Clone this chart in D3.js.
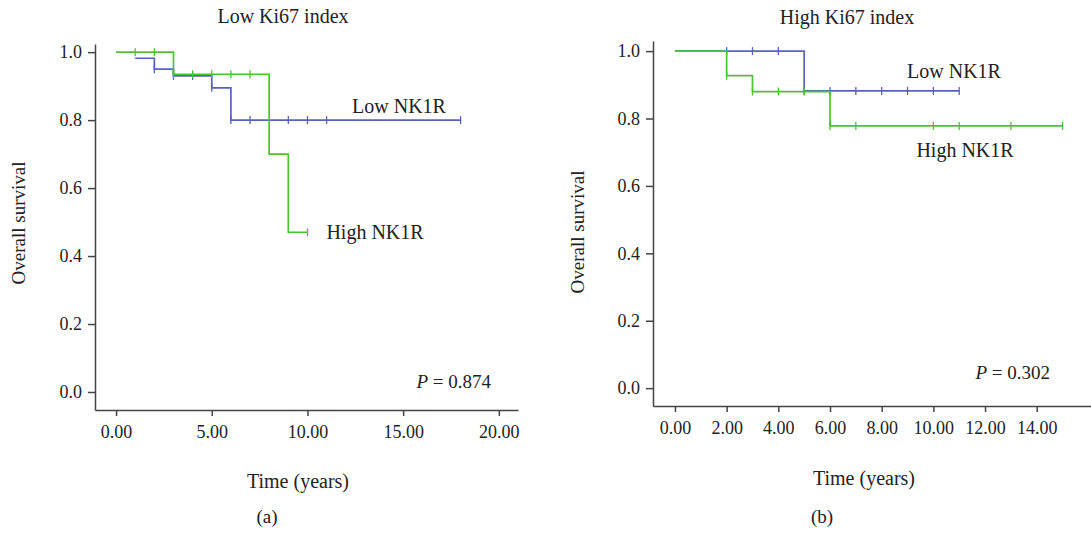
<!DOCTYPE html>
<html>
<head>
<meta charset="utf-8">
<script src="https://cdn.jsdelivr.net/npm/d3@7"></script>
<style>
  body { margin: 0; background: #fff; }
  svg text { font-family: "Liberation Serif", "Times New Roman", serif; fill: #222; }
</style>
</head>
<body>
<script>
const width = 1091;
const height = 533;

// Kaplan-Meier steps: [time, survival] and censor times
const lowKi_lowNK1R_steps = [[1, 0.982], [2, 0.95], [3, 0.93], [5, 0.895], [6, 0.80], [18, 0.80]];
const lowKi_lowNK1R_censor = [2, 3, 4, 5, 6, 7, 9, 10, 11, 18];
const lowKi_highNK1R_steps = [[0, 1.0], [3, 0.935], [8, 0.70], [9, 0.47], [10, 0.47]];
const lowKi_highNK1R_censor = [1, 2, 3, 4, 5, 6, 7, 10];

const highKi_lowNK1R_steps = [[0, 1.0], [5, 0.882], [11, 0.882]];
const highKi_lowNK1R_censor = [2, 3, 4, 5, 6, 7, 8, 9, 10, 11];
const highKi_highNK1R_steps = [[0, 1.0], [2, 0.927], [3, 0.88], [6, 0.778], [15, 0.778]];
const highKi_highNK1R_censor = [2, 3, 4, 5, 6, 7, 10, 11, 13, 15];

const xTicksA = [0, 5, 10, 15, 20];
const xTicksB = [0, 2, 4, 6, 8, 10, 12, 14];
const yTicks = [0, 0.2, 0.4, 0.6, 0.8, 1.0];

const blue = '#5862bb';
const green = '#4cc230';

const svg = d3.select('body')
    .append('svg')
    .attr('width', width)
    .attr('height', height);

// value of the step curve at time t
function survAt(steps, t) {
    let v = steps[0][1];
    steps.forEach(s => { if (s[0] <= t) v = s[1]; });
    return v;
}

function drawPanel(p) {
    const x = d3.scaleLinear().domain(p.xDomain).range(p.xRange);
    const y = d3.scaleLinear().domain(p.yDomain).range(p.yRange);
    const g = svg.append('g');

    const xAxis = g.append('g')
        .attr('transform', `translate(0,${p.yRange[0]})`)
        .call(d3.axisBottom(x).tickValues(p.xTicks).tickFormat(d3.format('.2f')).tickSize(6).tickSizeOuter(0).tickPadding(9));
    const yAxis = g.append('g')
        .attr('transform', `translate(${p.xRange[0]},0)`)
        .call(d3.axisLeft(y).tickValues(yTicks).tickFormat(d3.format('.1f')).tickSize(7).tickSizeOuter(0).tickPadding(6));
    [xAxis, yAxis].forEach(a => {
        a.selectAll('path, line').attr('stroke', '#444').attr('stroke-width', 1.5);
        a.selectAll('text').attr('font-size', 18).attr('fill', '#222')
            .attr('font-family', '"Liberation Serif", serif');
    });

    const line = d3.line().x(d => x(d[0])).y(d => y(d[1])).curve(d3.curveStepAfter);
    p.series.forEach(s => {
        g.append('path')
            .datum(s.steps)
            .attr('fill', 'none')
            .attr('stroke', s.color)
            .attr('stroke-width', 1.7)
            .attr('d', line);
        g.selectAll(null)
            .data(s.censor)
            .enter().append('line')
            .attr('x1', d => x(d)).attr('x2', d => x(d))
            .attr('y1', d => y(survAt(s.steps, d)) - 4)
            .attr('y2', d => y(survAt(s.steps, d)) + 4)
            .attr('stroke', s.color)
            .attr('stroke-width', 1.3);
    });

    g.append('text').attr('x', p.title[1]).attr('y', p.title[2])
        .attr('text-anchor', 'middle').attr('font-size', 20).text(p.title[0]);
    p.labels.forEach(l => {
        g.append('text').attr('x', l[1]).attr('y', l[2])
            .attr('text-anchor', 'middle').attr('font-size', 20).text(l[0]);
    });
    const pt = g.append('text').attr('x', p.pval[1]).attr('y', p.pval[2])
        .attr('text-anchor', 'end').attr('font-size', 19);
    pt.append('tspan').attr('font-style', 'italic').text('P');
    pt.append('tspan').text(' = ' + p.pval[0]);

    g.append('text').attr('x', p.xLabel[0]).attr('y', p.xLabel[1])
        .attr('text-anchor', 'middle').attr('font-size', 20).text('Time (years)');
    g.append('text').attr('transform', `translate(${p.yLabel[0]},${p.yLabel[1]}) rotate(-90)`)
        .attr('text-anchor', 'middle').attr('font-size', 19).text('Overall survival');
    g.append('text').attr('x', p.tag[1]).attr('y', p.tag[2])
        .attr('text-anchor', 'middle').attr('font-size', 19).text(p.tag[0]);
}

drawPanel({
    xDomain: [-1.1, 21.0], xRange: [95, 518],
    yDomain: [-0.053, 1.024], yRange: [410, 44],
    xTicks: xTicksA,
    series: [
        {steps: lowKi_lowNK1R_steps, censor: lowKi_lowNK1R_censor, color: blue},
        {steps: lowKi_highNK1R_steps, censor: lowKi_highNK1R_censor, color: green}
    ],
    title: ['Low Ki67 index', 283, 23],
    labels: [['Low NK1R', 399, 113], ['High NK1R', 375, 239]],
    pval: ['0.874', 491, 388],
    xLabel: [298, 488],
    yLabel: [25, 223],
    tag: ['(a)', 267, 523]
});

drawPanel({
    xDomain: [-0.85, 16.1], xRange: [653, 1091],
    yDomain: [-0.053, 1.03], yRange: [406, 41],
    xTicks: xTicksB,
    series: [
        {steps: highKi_lowNK1R_steps, censor: highKi_lowNK1R_censor, color: blue},
        {steps: highKi_highNK1R_steps, censor: highKi_highNK1R_censor, color: green}
    ],
    title: ['High Ki67 index', 847, 24],
    labels: [['Low NK1R', 954, 78], ['High NK1R', 965, 157]],
    pval: ['0.302', 1050, 379],
    xLabel: [864, 485],
    yLabel: [584, 232],
    tag: ['(b)', 822, 523]
});
</script>
</body>
</html>
